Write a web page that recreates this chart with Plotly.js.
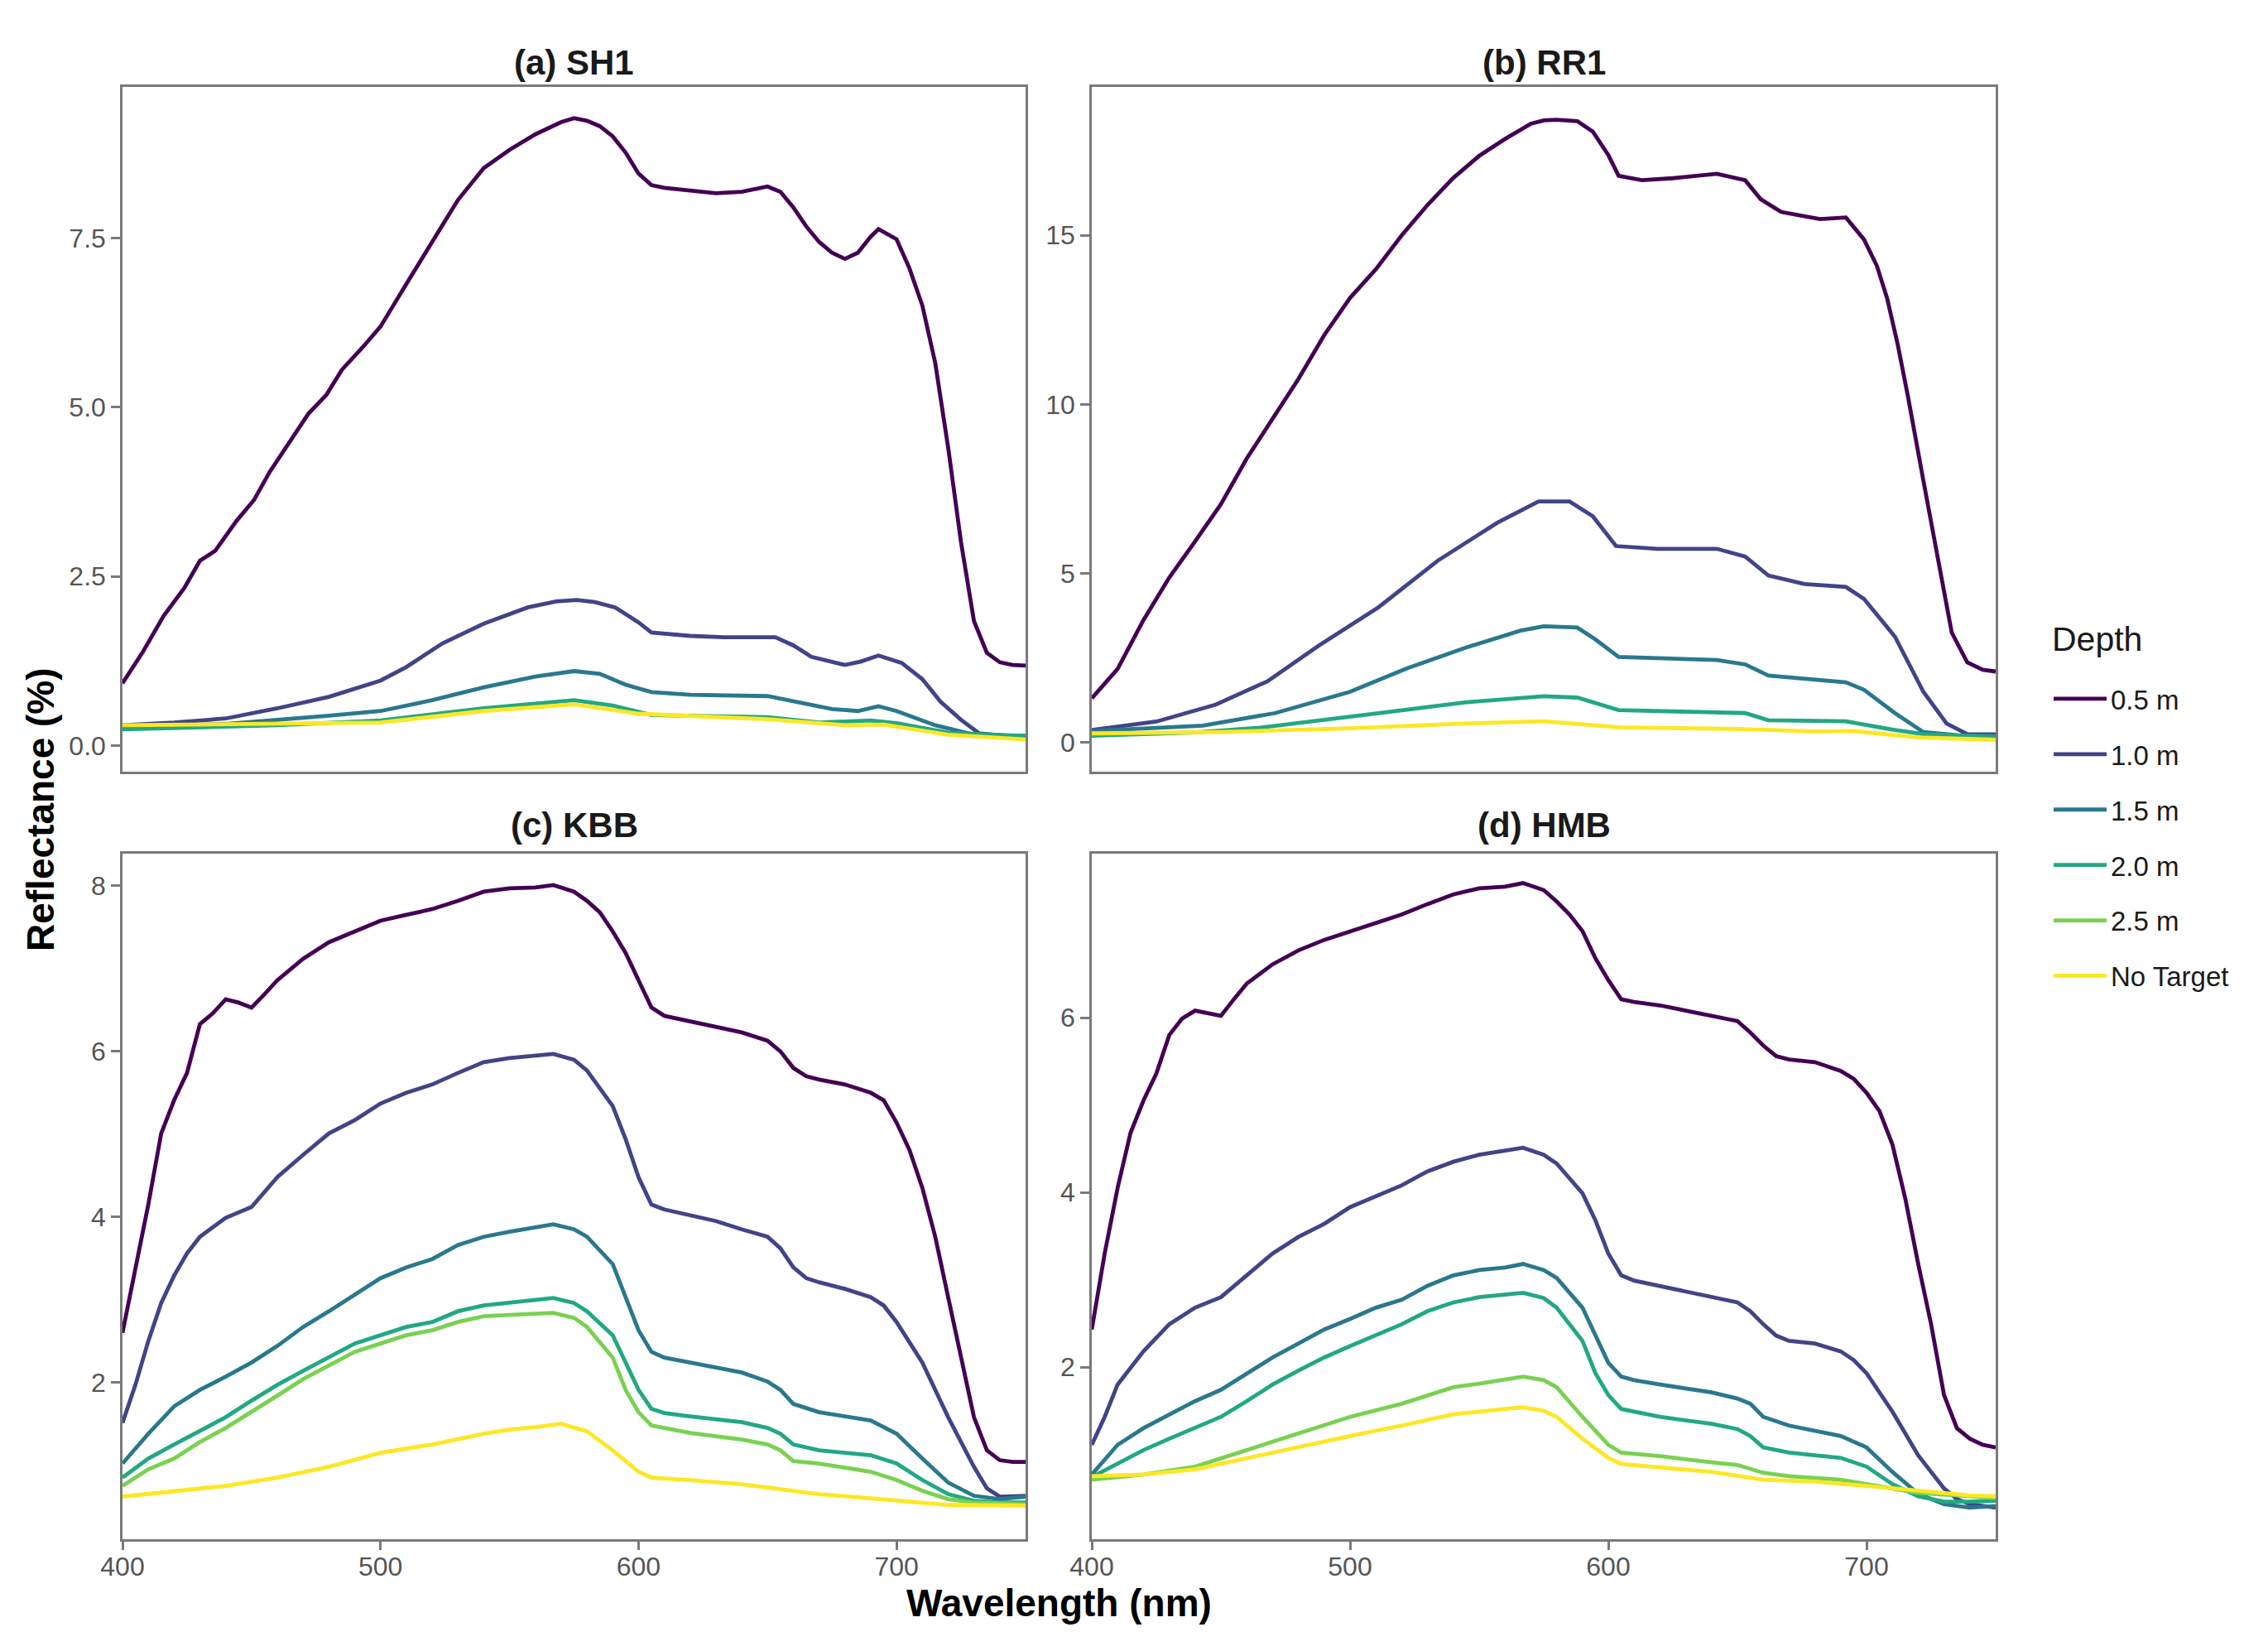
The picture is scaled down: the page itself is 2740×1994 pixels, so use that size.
<!DOCTYPE html>
<html>
<head>
<meta charset="utf-8">
<script src="https://cdn.plot.ly/plotly-3.0.1.min.js"></script>
<style>html,body{margin:0;padding:0;background:#fff;}#chart{width:2740px;height:1994px;}</style>
</head>
<body>
<div id="chart"></div>
<script>
// ---- Data (wavelength nm, reflectance %) ----
const depthLabels = ["0.5 m", "1.0 m", "1.5 m", "2.0 m", "2.5 m", "No Target"];
const depthColors = ["#440154", "#414487", "#2A788E", "#22A884", "#7AD151", "#FDE725"];
const panelTitles = ["(a) SH1", "(b) RR1", "(c) KBB", "(d) HMB"];
const legendTitle = "Depth";
const xTickVals = [400, 500, 600, 700];

// (a) SH1
const SH1_05 = [[400,0.92],[408,1.39],[416,1.92],[424,2.33],[430,2.73],[436,2.88],[444,3.31],[451,3.63],[457,4.04],[464,4.45],[472,4.90],[479,5.18],[485,5.55],[493,5.88],[500,6.19],[510,6.82],[520,7.44],[530,8.06],[540,8.53],[550,8.80],[560,9.03],[570,9.21],[575,9.27],[580,9.23],[585,9.15],[590,9.00],[595,8.76],[600,8.45],[605,8.28],[610,8.24],[620,8.20],[630,8.16],[640,8.18],[650,8.26],[655,8.18],[660,7.95],[665,7.67],[670,7.44],[675,7.28],[680,7.19],[685,7.28],[690,7.52],[693,7.63],[700,7.48],[705,7.05],[710,6.50],[715,5.65],[720,4.40],[725,3.00],[730,1.84],[735,1.37],[740,1.23],[745,1.19],[750,1.18]];
const SH1_10 = [[400,0.30],[420,0.34],[440,0.40],[460,0.55],[480,0.72],[490,0.84],[500,0.96],[510,1.16],[524,1.51],[540,1.80],[557,2.04],[568,2.13],[576,2.15],[583,2.12],[591,2.04],[600,1.82],[605,1.67],[620,1.62],[633,1.60],[653,1.60],[660,1.48],[667,1.31],[680,1.19],[686,1.24],[693,1.33],[702,1.22],[710,0.98],[717,0.65],[725,0.38],[732,0.18],[740,0.15],[750,0.14]];
const SH1_15 = [[400,0.27],[440,0.32],[480,0.44],[500,0.51],[520,0.67],[540,0.86],[560,1.02],[575,1.10],[585,1.06],[595,0.90],[605,0.79],[620,0.75],[650,0.73],[660,0.65],[675,0.54],[685,0.51],[693,0.58],[700,0.51],[715,0.30],[730,0.16],[750,0.14]];
const SH1_20 = [[400,0.24],[460,0.30],[500,0.37],[540,0.55],[575,0.67],[590,0.59],[605,0.45],[650,0.42],[670,0.34],[690,0.37],[700,0.33],[720,0.19],[750,0.14]];
const SH1_NT = [[400,0.30],[450,0.32],[500,0.34],[540,0.51],[575,0.61],[600,0.47],[650,0.39],[680,0.30],[695,0.31],[720,0.16],[750,0.09]];

// (b) RR1
const RR1_05 = [[400,1.31],[410,2.18],[420,3.62],[430,4.88],[440,5.95],[450,7.05],[460,8.40],[470,9.60],[480,10.75],[490,12.05],[500,13.15],[510,14.00],[520,15.00],[530,15.90],[540,16.70],[550,17.35],[560,17.85],[570,18.30],[575,18.40],[580,18.42],[588,18.38],[594,18.07],[600,17.38],[604,16.76],[613,16.63],[625,16.69],[642,16.82],[653,16.63],[659,16.07],[667,15.69],[682,15.48],[692,15.53],[699,14.88],[704,14.10],[708,13.13],[712,11.80],[716,10.25],[722,7.75],[728,5.25],[733,3.25],[739,2.37],[745,2.15],[750,2.10]];
const RR1_10 = [[400,0.37],[425,0.62],[448,1.12],[468,1.81],[488,2.87],[511,4.00],[534,5.38],[557,6.50],[573,7.13],[585,7.13],[594,6.69],[603,5.81],[619,5.73],[642,5.73],[653,5.50],[662,4.94],[676,4.69],[692,4.60],[699,4.25],[711,3.13],[722,1.50],[731,0.56],[739,0.25],[750,0.24]];
const RR1_15 = [[400,0.34],[443,0.50],[471,0.87],[500,1.50],[522,2.19],[545,2.81],[566,3.31],[575,3.44],[588,3.40],[595,3.05],[604,2.53],[642,2.44],[653,2.31],[662,1.98],[692,1.78],[699,1.56],[711,0.87],[722,0.31],[735,0.22],[750,0.20]];
const RR1_20 = [[400,0.20],[440,0.30],[465,0.44],[500,0.75],[511,0.87],[545,1.19],[575,1.37],[588,1.33],[604,0.96],[653,0.87],[662,0.66],[692,0.63],[711,0.37],[722,0.25],[740,0.18],[750,0.16]];
const RR1_NT = [[400,0.27],[450,0.31],[500,0.42],[540,0.55],[575,0.63],[604,0.45],[650,0.40],[680,0.33],[695,0.34],[720,0.15],[750,0.08]];

// (c) KBB
const KBB_05 = [[400,2.60],[405,3.36],[410,4.15],[415,5.01],[420,5.41],[425,5.74],[430,6.33],[435,6.46],[440,6.63],[445,6.59],[450,6.53],[455,6.69],[460,6.86],[470,7.12],[480,7.32],[490,7.45],[500,7.58],[510,7.65],[520,7.72],[530,7.82],[540,7.93],[550,7.97],[560,7.98],[567,8.01],[575,7.93],[580,7.82],[585,7.68],[590,7.45],[595,7.19],[600,6.86],[605,6.53],[610,6.43],[620,6.36],[630,6.30],[640,6.23],[650,6.13],[655,6.00],[660,5.80],[665,5.70],[670,5.66],[680,5.60],[690,5.50],[695,5.41],[700,5.14],[705,4.81],[710,4.35],[715,3.76],[720,3.03],[725,2.30],[730,1.58],[735,1.18],[740,1.06],[745,1.04],[750,1.04]];
const KBB_10 = [[400,1.51],[405,1.97],[410,2.50],[415,2.96],[420,3.29],[425,3.56],[430,3.76],[440,3.99],[450,4.12],[460,4.48],[470,4.75],[480,5.01],[490,5.17],[500,5.37],[510,5.50],[520,5.60],[530,5.74],[540,5.87],[550,5.92],[560,5.95],[567,5.97],[575,5.90],[580,5.77],[590,5.34],[595,4.94],[600,4.48],[605,4.15],[610,4.09],[620,4.02],[630,3.95],[640,3.85],[650,3.76],[655,3.62],[660,3.39],[665,3.26],[670,3.21],[680,3.13],[690,3.03],[695,2.93],[700,2.73],[710,2.24],[720,1.58],[730,0.98],[735,0.72],[740,0.62],[750,0.63]];
const KBB_15 = [[400,1.02],[410,1.38],[420,1.71],[430,1.91],[440,2.07],[450,2.24],[460,2.44],[470,2.67],[480,2.86],[490,3.06],[500,3.26],[510,3.39],[520,3.49],[530,3.66],[540,3.76],[550,3.82],[560,3.87],[567,3.91],[575,3.85],[580,3.76],[590,3.43],[595,3.03],[600,2.63],[605,2.37],[610,2.30],[620,2.24],[640,2.12],[650,2.01],[655,1.91],[660,1.74],[670,1.64],[690,1.54],[700,1.38],[710,1.08],[720,0.79],[730,0.63],[740,0.59],[750,0.62]];
const KBB_20 = [[400,0.85],[410,1.08],[420,1.25],[430,1.41],[440,1.58],[450,1.78],[460,1.97],[470,2.14],[480,2.30],[490,2.47],[500,2.57],[510,2.67],[520,2.73],[530,2.86],[540,2.93],[550,2.96],[560,3.00],[567,3.02],[575,2.96],[580,2.86],[590,2.57],[595,2.24],[600,1.91],[605,1.68],[610,1.63],[620,1.59],[640,1.52],[650,1.45],[655,1.38],[660,1.25],[670,1.18],[690,1.12],[700,1.02],[710,0.82],[720,0.65],[730,0.57],[740,0.55],[750,0.55]];
const KBB_25 = [[400,0.75],[410,0.95],[420,1.08],[430,1.28],[440,1.45],[450,1.64],[460,1.84],[470,2.04],[480,2.20],[490,2.37],[500,2.47],[510,2.57],[520,2.63],[530,2.73],[540,2.80],[550,2.82],[560,2.83],[567,2.84],[575,2.78],[580,2.67],[590,2.30],[595,1.91],[600,1.64],[605,1.48],[610,1.45],[620,1.39],[640,1.31],[650,1.25],[655,1.18],[660,1.05],[670,1.02],[690,0.92],[700,0.82],[710,0.69],[720,0.59],[730,0.55],[750,0.53]];
const KBB_NT = [[400,0.62],[420,0.69],[440,0.75],[460,0.85],[480,0.98],[500,1.15],[520,1.25],[540,1.38],[550,1.43],[560,1.46],[570,1.50],[580,1.41],[590,1.18],[600,0.92],[605,0.85],[620,0.82],[640,0.77],[660,0.69],[670,0.65],[690,0.60],[700,0.57],[720,0.52],[750,0.51]];

// (d) HMB
const HMB_05 = [[400,2.43],[405,3.30],[410,4.05],[415,4.68],[420,5.05],[425,5.36],[430,5.80],[435,5.99],[440,6.08],[445,6.05],[450,6.02],[455,6.21],[460,6.39],[470,6.61],[480,6.77],[490,6.89],[500,6.99],[510,7.08],[520,7.18],[530,7.30],[540,7.41],[550,7.48],[560,7.50],[567,7.54],[575,7.46],[580,7.33],[585,7.18],[590,6.99],[595,6.68],[600,6.43],[605,6.21],[610,6.18],[620,6.14],[630,6.08],[640,6.02],[650,5.96],[655,5.83],[660,5.68],[665,5.56],[670,5.52],[680,5.49],[690,5.39],[695,5.30],[700,5.14],[705,4.93],[710,4.55],[715,3.93],[720,3.18],[725,2.49],[730,1.68],[735,1.30],[740,1.18],[745,1.11],[750,1.08]];
const HMB_10 = [[400,1.11],[405,1.43],[410,1.80],[420,2.18],[430,2.49],[440,2.68],[450,2.80],[460,3.05],[470,3.30],[480,3.49],[490,3.64],[500,3.83],[510,3.96],[520,4.08],[530,4.24],[540,4.35],[550,4.43],[560,4.48],[567,4.51],[575,4.43],[580,4.33],[590,3.99],[595,3.68],[600,3.30],[605,3.05],[610,2.99],[620,2.93],[630,2.86],[640,2.80],[650,2.74],[655,2.64],[660,2.49],[665,2.36],[670,2.30],[680,2.27],[690,2.18],[695,2.08],[700,1.93],[710,1.49],[720,0.99],[730,0.61],[735,0.49],[740,0.43],[750,0.39]];
const HMB_15 = [[400,0.77],[410,1.11],[420,1.30],[430,1.46],[440,1.61],[450,1.74],[460,1.93],[470,2.11],[480,2.27],[490,2.43],[500,2.55],[510,2.68],[520,2.77],[530,2.93],[540,3.05],[550,3.11],[560,3.14],[567,3.18],[575,3.11],[580,3.02],[590,2.68],[595,2.36],[600,2.05],[605,1.89],[610,1.85],[620,1.80],[640,1.71],[650,1.64],[655,1.58],[660,1.43],[670,1.33],[690,1.21],[700,1.08],[710,0.80],[720,0.55],[730,0.43],[740,0.39],[750,0.41]];
const HMB_20 = [[400,0.74],[410,0.89],[420,1.05],[430,1.18],[440,1.30],[450,1.43],[460,1.61],[470,1.80],[480,1.96],[490,2.11],[500,2.24],[510,2.36],[520,2.49],[530,2.64],[540,2.74],[550,2.80],[560,2.83],[567,2.85],[575,2.79],[580,2.68],[590,2.30],[595,1.93],[600,1.68],[605,1.52],[610,1.49],[620,1.43],[640,1.35],[650,1.29],[655,1.21],[660,1.08],[670,1.02],[690,0.96],[700,0.86],[710,0.66],[720,0.52],[730,0.46],[740,0.46],[750,0.47]];
const HMB_25 = [[400,0.71],[420,0.77],[440,0.86],[460,1.05],[480,1.24],[500,1.43],[520,1.58],[540,1.77],[550,1.81],[560,1.86],[567,1.89],[575,1.85],[580,1.77],[590,1.43],[600,1.11],[605,1.02],[620,0.98],[640,0.91],[650,0.88],[660,0.79],[670,0.75],[690,0.71],[700,0.66],[720,0.56],[740,0.52],[750,0.50]];
const HMB_NT = [[400,0.75],[420,0.77],[440,0.83],[460,0.96],[480,1.08],[500,1.21],[520,1.33],[540,1.46],[560,1.52],[567,1.54],[575,1.50],[580,1.43],[590,1.18],[600,0.96],[605,0.89],[620,0.85],[640,0.80],[660,0.71],[680,0.69],[700,0.64],[720,0.58],[740,0.53],[750,0.52]];

// Series per panel, index into depthLabels (null = not measured)
const panelSeries = [
  [SH1_05, SH1_10, SH1_15, SH1_20, null, SH1_NT],
  [RR1_05, RR1_10, RR1_15, RR1_20, null, RR1_NT],
  [KBB_05, KBB_10, KBB_15, KBB_20, KBB_25, KBB_NT],
  [HMB_05, HMB_10, HMB_15, HMB_20, HMB_25, HMB_NT]
];
const yRanges = [[-0.38, 9.73], [-0.85, 19.39], [0.11, 8.39], [0.034, 7.877]];
const yTickVals = [[0, 2.5, 5, 7.5], [0, 5, 10, 15], [2, 4, 6, 8], [2, 4, 6]];
const yTickFormats = [".1f", "d", "d", "d"];

// ---- Build traces ----
const W = 2740, H = 1994;
const FONT = "Liberation Sans, Arial, sans-serif";
const axisSuffix = ["", "2", "3", "4"];
const traces = [];
// legend taken from panel (c), which holds all six depths; added first so legend follows depth order
const order = [2, 0, 1, 3];
order.forEach(p => {
  panelSeries[p].forEach((s, k) => {
    if (!s) return;
    traces.push({
      type: "scatter", mode: "lines",
      x: s.map(d => d[0]), y: s.map(d => d[1]),
      name: depthLabels[k], legendgroup: depthLabels[k],
      showlegend: p === 2,
      line: { color: depthColors[k], width: 4.8, shape: "linear" },
      xaxis: "x" + axisSuffix[p], yaxis: "y" + axisSuffix[p],
      hoverinfo: "x+y+name"
    });
  });
});

// ---- Layout ----
const xDom = [[148 / W, 1239 / W], [1319 / W, 2411 / W]];
const yDom = [[1 - 931.5 / H, 1 - 105 / H], [1 - 1858.5 / H, 1 - 1031 / H]];
const frame = "#7a7a7a";

const layout = {
  width: W, height: H,
  margin: { l: 0, r: 0, t: 0, b: 0 },
  paper_bgcolor: "#ffffff", plot_bgcolor: "#ffffff",
  font: { family: FONT, color: "#000000" },
  showlegend: true,
  legend: {
    x: 2476 / W, y: 1 - 816 / H, xanchor: "left", yanchor: "top",
    traceorder: "grouped", tracegroupgap: 21,
    font: { size: 33, color: "#1a1a1a", family: FONT },
    bgcolor: "rgba(0,0,0,0)", borderwidth: 0, itemwidth: 64
  },
  annotations: [],
  shapes: []
};

for (let p = 0; p < 4; p++) {
  const col = p % 2, row = Math.floor(p / 2);
  layout["xaxis" + axisSuffix[p]] = {
    domain: xDom[col], anchor: "y" + axisSuffix[p],
    range: [400, 750], tickvals: xTickVals,
    showticklabels: row === 1, ticks: row === 1 ? "outside" : "",
    ticklen: 11, tickwidth: 2.5, tickcolor: frame, ticklabelstandoff: -8,
    tickfont: { size: 32, color: "#555555", family: FONT },
    showgrid: false, zeroline: false,
    showline: true, mirror: true, linecolor: frame, linewidth: 2.5,
    automargin: false
  };
  layout["yaxis" + axisSuffix[p]] = {
    domain: yDom[row], anchor: "x" + axisSuffix[p],
    range: yRanges[p], tickvals: yTickVals[p], tickformat: yTickFormats[p],
    ticks: "outside", ticklen: 11, tickwidth: 2.5, tickcolor: frame,
    tickfont: { size: 32, color: "#555555", family: FONT },
    showgrid: false, zeroline: false,
    showline: true, mirror: true, linecolor: frame, linewidth: 2.5,
    automargin: false
  };
  layout.annotations.push({
    text: panelTitles[p], xref: "paper", yref: "paper",
    x: (xDom[col][0] + xDom[col][1]) / 2,
    y: row === 0 ? 1 - 75 / H : 1 - 996 / H,
    xanchor: "center", yanchor: "middle", showarrow: false,
    font: { size: 42, color: "#1a1a1a", family: FONT, weight: "bold" }
  });
}

layout.annotations.push({
  text: legendTitle, xref: "paper", yref: "paper",
  x: 2477 / W, y: 1 - 772 / H, xanchor: "left", yanchor: "middle",
  showarrow: false, font: { size: 41, color: "#1a1a1a", family: FONT }
});
layout.annotations.push({
  text: "Wavelength (nm)", xref: "paper", yref: "paper",
  x: 1279.5 / W, y: 1 - 1936 / H, xanchor: "center", yanchor: "middle",
  showarrow: false, font: { size: 46, color: "#000", family: FONT, weight: "bold" }
});
layout.annotations.push({
  text: "Reflectance (%)", xref: "paper", yref: "paper",
  x: 49 / W, y: 1 - 978 / H, xanchor: "center", yanchor: "middle",
  textangle: -90, showarrow: false,
  font: { size: 46, color: "#000", family: FONT, weight: "bold" }
});

Plotly.newPlot("chart", traces, layout, { displayModeBar: false });
</script>
</body>
</html>
